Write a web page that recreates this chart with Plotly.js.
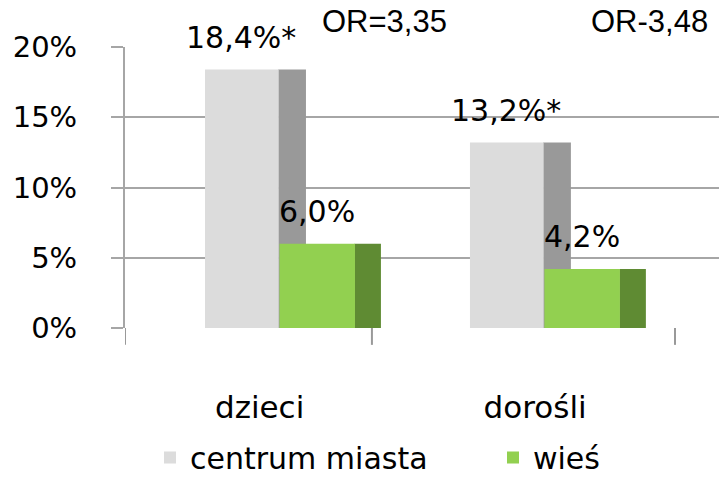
<!DOCTYPE html>
<html>
<head>
<meta charset="utf-8">
<script src="https://cdn.plot.ly/plotly-3.0.1.min.js"></script>
<style>html,body{margin:0;padding:0;background:#fff;}#chart{width:724px;height:479px;}</style>
</head>
<body>
<div id="chart"></div>
<script>
// ---- data ----
const categories = ['dzieci', 'dorośli'];
const seriesNames = ['centrum miasta', 'wieś'];
const centrumValues = [0.184, 0.132];
const wiesValues = [0.060, 0.042];
const centrumLabels = ['18,4%*', '13,2%*'];
const wiesLabels = ['6,0%', '4,2%'];
const orLabels = ['OR=3,35', 'OR-3,48'];
const yTickVals = [0, 0.05, 0.10, 0.15, 0.20];
const yTickText = ['0%', '5%', '10%', '15%', '20%'];

// ---- styling ----
const FONT = 'DejaVu Sans, sans-serif';
const xIdx = categories.map((c, i) => i);

function bar(vals, offset, width, color, name, show, legend) {
  return {
    type: 'bar', x: xIdx, y: vals, offset: offset, width: width,
    marker: {color: color, line: {width: 0}},
    name: name, showlegend: show, legend: legend || 'legend', hoverinfo: 'skip'
  };
}

const traces = [
  bar(centrumValues, -0.06, 0.105, '#999999', seriesNames[0], false),
  bar(centrumValues, -0.336, 0.278, '#dcdcdc', seriesNames[0], true, 'legend'),
  bar(wiesValues, 0.228, 0.100, '#5f8b33', seriesNames[1], false),
  bar(wiesValues, -0.055, 0.285, '#92d050', seriesNames[1], true, 'legend2')
];

const annotations = [];
xIdx.forEach(i => {
  annotations.push({x: i - 0.2, y: centrumValues[i], xref: 'x', yref: 'y', text: centrumLabels[i],
    showarrow: false, yshift: 32, font: {family: FONT, size: 30, color: '#000'}});
  annotations.push({x: i + 0.085, y: wiesValues[i], xref: 'x', yref: 'y', text: wiesLabels[i],
    showarrow: false, yshift: 32, font: {family: FONT, size: 30, color: '#000'}});
  annotations.push({x: i + 0.34, y: 1.09, xref: 'x', yref: 'paper', yanchor: 'middle', text: orLabels[i],
    showarrow: false, font: {family: 'Liberation Sans, Arial, sans-serif', size: 31, color: '#000'}});
});

const tickShapes = [-0.638, 0.294, 1.438].map(v => ({
  type: 'line', xref: 'x', yref: 'paper', x0: v, x1: v, y0: 0, y1: -0.06,
  line: {color: '#999999', width: 2}
}));

const legendBase = {
  orientation: 'h', xref: 'container', yref: 'container', xanchor: 'left', yanchor: 'middle',
  y: 0.045, font: {family: FONT, size: 30, color: '#000'}, bgcolor: 'rgba(0,0,0,0)'
};

const layout = {
  width: 724, height: 479,
  margin: {l: 125, r: 5, t: 47, b: 151},
  paper_bgcolor: '#ffffff', plot_bgcolor: 'rgba(0,0,0,0)',
  barmode: 'overlay',
  showlegend: true,
  font: {family: FONT, color: '#000'},
  xaxis: {
    range: [-0.638, 1.604], tickvals: [-0.13, 0.91], ticktext: categories,
    ticks: '', showgrid: false, zeroline: false, showline: false, automargin: false,
    ticklabelstandoff: 58, tickfont: {family: FONT, size: 31, color: '#000'}
  },
  yaxis: {
    range: [0, 0.2], tickvals: yTickVals, ticktext: yTickText, automargin: false,
    showgrid: true, gridcolor: '#a6a6a6', gridwidth: 2,
    zeroline: false, showline: true, linecolor: '#a6a6a6', linewidth: 2,
    ticks: 'outside', ticklen: 12, tickcolor: '#a6a6a6', tickwidth: 2,
    ticklabelstandoff: 28, tickfont: {family: FONT, size: 29, color: '#000'}
  },
  legend: Object.assign({}, legendBase, {x: 150 / 724}),
  legend2: Object.assign({}, legendBase, {x: 493 / 724}),
  annotations: annotations,
  shapes: tickShapes
};

Plotly.newPlot('chart', traces, layout, {displayModeBar: false, staticPlot: true});
</script>
</body>
</html>
